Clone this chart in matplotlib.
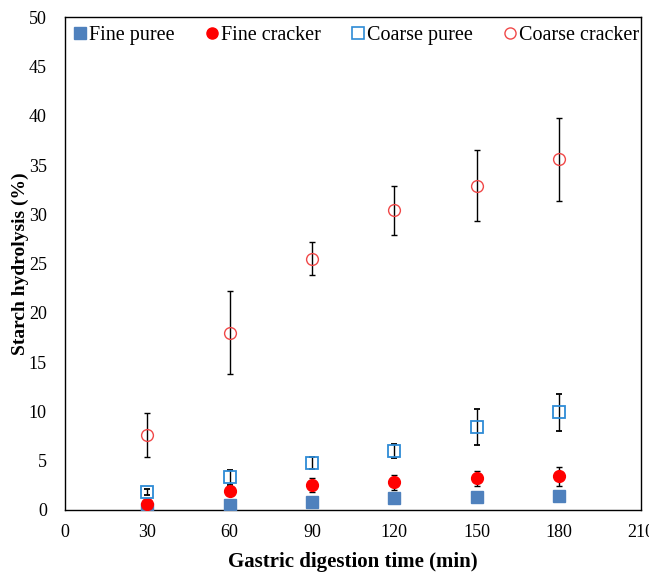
import matplotlib
matplotlib.use("Agg")
import matplotlib.pyplot as plt
import numpy as np
from matplotlib.lines import Line2D

plt.rcParams['font.family'] = ['Liberation Serif', 'DejaVu Serif']

time = [30, 60, 90, 120, 150, 180]
fine_puree = [0.1, 0.5, 0.8, 1.2, 1.3, 1.4]
fine_puree_err = [0.1, 0.1, 0.1, 0.1, 0.1, 0.1]
fine_cracker = [0.6, 1.9, 2.5, 2.8, 3.2, 3.4]
fine_cracker_err = [0.2, 0.3, 0.7, 0.8, 0.8, 1.0]
coarse_puree = [1.8, 3.3, 4.8, 6.0, 8.4, 9.9]
coarse_puree_err = [0.3, 0.8, 0.6, 0.7, 1.8, 1.9]
coarse_cracker = [7.6, 18.0, 25.5, 30.4, 32.9, 35.6]
coarse_cracker_err = [2.2, 4.2, 1.7, 2.5, 3.6, 4.2]

fig = plt.figure(figsize=(6.49, 5.74), dpi=100)
ax = fig.add_axes([0.100, 0.1115, 0.888, 0.8585])

ekw = dict(ecolor='black', elinewidth=1.0, capsize=2.0, capthick=1.0, linestyle='none')
ax.errorbar(time, fine_puree, yerr=fine_puree_err, fmt='s', ms=9, mfc='#4F81BD', mec='#4F81BD',
            label='Fine puree', zorder=3, **ekw)
ax.errorbar(time, fine_cracker, yerr=fine_cracker_err, fmt='o', ms=8.5, mfc='#FF0000', mec='#FF0000',
            label='Fine cracker', zorder=3, **ekw)
ax.errorbar(time, coarse_puree, yerr=coarse_puree_err, fmt='s', ms=8.5, mfc='none', mec='#2E8BD6', mew=1.3,
            label='Coarse puree', zorder=3, **ekw)
ax.errorbar(time, coarse_cracker, yerr=coarse_cracker_err, fmt='o', ms=8.5, mfc='none', mec='#F04848', mew=1.0,
            label='Coarse cracker', zorder=3, **ekw)

ax.set_xlim(0, 210)
ax.set_ylim(0, 50)
ax.set_xticks(np.arange(0, 211, 30))
ax.set_yticks(np.arange(0, 51, 5))
ax.tick_params(axis='both', length=0, labelsize=13)
ax.tick_params(axis='y', pad=13)
ax.tick_params(axis='x', pad=10)
for s in ax.spines.values():
    s.set_linewidth(1.0)

ax.set_xlabel('Gastric digestion time (min)', fontsize=15, fontweight='bold', labelpad=8)
ax.set_ylabel('Starch hydrolysis (%)', fontsize=14, fontweight='bold', labelpad=0)

handles = [
    Line2D([], [], marker='s', ls='none', ms=9, mfc='#4F81BD', mec='#4F81BD'),
    Line2D([], [], marker='o', ls='none', ms=8, mfc='#FF0000', mec='#FF0000'),
    Line2D([], [], marker='s', ls='none', ms=8, mfc='none', mec='#2E8BD6', mew=1.2),
    Line2D([], [], marker='o', ls='none', ms=8, mfc='none', mec='#F04848'),
]
ax.legend(handles, ['Fine puree', 'Fine cracker', 'Coarse puree', 'Coarse cracker'],
          loc='upper center', bbox_to_anchor=(0.505, 1.02), ncol=4, frameon=False, fontsize=14.5,
          handlelength=0.7, handletextpad=0.1, columnspacing=1.5)

fig.savefig('out.png', dpi=100)
